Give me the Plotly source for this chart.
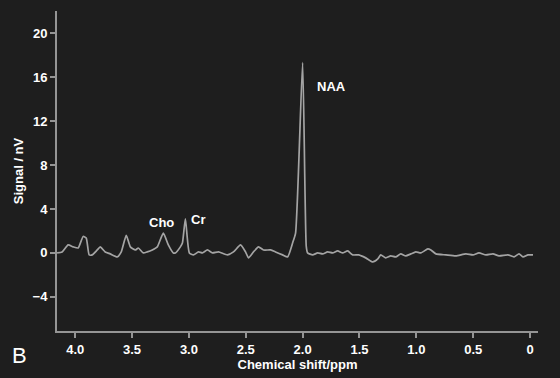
import plotly.graph_objects as go

ppm = [4.159, 4.115, 4.062, 4.018, 3.974, 3.930, 3.903, 3.877, 3.850, 3.806, 3.780, 3.736,
       3.692, 3.630, 3.595, 3.551, 3.515, 3.471, 3.445, 3.401, 3.366, 3.322, 3.278, 3.225,
       3.181, 3.137, 3.119, 3.075, 3.057, 3.031, 2.996, 2.960, 2.916, 2.881, 2.837, 2.793,
       2.740, 2.661, 2.608, 2.546, 2.502, 2.476, 2.432, 2.388, 2.344, 2.282, 2.238, 2.176,
       2.132, 2.088, 2.062, 2.000, 1.968, 1.956, 1.912, 1.868, 1.824, 1.780, 1.736, 1.692,
       1.648, 1.604, 1.559, 1.507, 1.445, 1.383, 1.339, 1.313, 1.269, 1.225, 1.181, 1.137,
       1.093, 1.048, 1.004, 0.960, 0.899, 0.872, 0.828, 0.740, 0.652, 0.564, 0.502, 0.449,
       0.388, 0.326, 0.273, 0.194, 0.141, 0.097, 0.062, 0.018, -0.026]
signal = [0.0, 0.09, 0.73, 0.55, 0.45, 1.5, 1.36, -0.18, -0.18, 0.27, 0.55, 0.09,
          -0.09, -0.36, 0.09, 1.6, 0.55, 0.27, 0.45, 0.0, 0.09, 0.27, 0.55, 1.8,
          0.73, 0.0, 0.0, 0.55, 0.9, 3.1, 0.0, -0.18, 0.09, 0.0, 0.27, 0.0,
          0.09, -0.18, 0.09, 0.73, 0.09, -0.45, 0.09, 0.55, 0.27, 0.27, 0.09, -0.18,
          -0.36, 0.91, 1.8, 17.3, 0.6, 0.0, -0.18, 0.0, -0.09, 0.09, 0.0, 0.18,
          0.0, 0.18, -0.18, -0.18, -0.45, -0.82, -0.55, -0.18, -0.45, -0.27, -0.36, -0.09,
          -0.27, -0.09, 0.09, 0.0, 0.36, 0.27, -0.09, -0.18, -0.27, -0.09, -0.18, 0.0,
          -0.18, -0.09, -0.27, -0.18, -0.36, -0.09, -0.36, -0.18, -0.18]

x_ticks = [4.0, 3.5, 3.0, 2.5, 2.0, 1.5, 1.0, 0.5, 0]
x_tick_labels = ["4.0", "3.5", "3.0", "2.5", "2.0", "1.5", "1.0", "0.5", "0"]
y_ticks = [-4, 0, 4, 8, 12, 16, 20]

peak_names = ["NAA", "Cho", "Cr"]
peak_x = [1.75, 3.24, 2.92]
peak_y = [15.1, 2.8, 3.0]

fig = go.Figure()
fig.add_trace(go.Scatter(x=ppm, y=signal, mode="lines",
                         line=dict(color="#a4a4a4", width=1.7, shape="spline", smoothing=0.5),
                         hoverinfo="skip"))

for name, px, py in zip(peak_names, peak_x, peak_y):
    fig.add_annotation(x=px, y=py, text=name, showarrow=False,
                       font=dict(family="Liberation Sans", size=13, color="white",
                                 weight="bold"))

fig.add_annotation(xref="paper", yref="paper", x=-0.077, y=-0.075, text="B",
                   showarrow=False, xanchor="center", yanchor="middle",
                   font=dict(family="Liberation Sans", size=22, color="white"))

tickfont = dict(family="Liberation Sans", size=13, color="white", weight="bold")
titlefont = dict(family="Liberation Sans", size=13, color="white", weight="bold")
axis_common = dict(showline=True, linecolor="#959595", linewidth=2, ticks="outside",
                   ticklen=5, tickwidth=1.5, tickcolor="#959595", showgrid=False,
                   zeroline=False, tickfont=tickfont)

fig.update_layout(
    width=560, height=378,
    margin=dict(l=57, r=22, t=11, b=47),
    paper_bgcolor="#1e1e1e", plot_bgcolor="#1e1e1e",
    showlegend=False,
    font=dict(family="Liberation Sans", color="white"),
    xaxis=dict(range=[4.16, -0.07], tickvals=x_ticks, ticktext=x_tick_labels,
               title=dict(text="Chemical shift/ppm", standoff=0, font=titlefont),
               **axis_common),
    yaxis=dict(range=[-7.1, 22.0], tickvals=y_ticks,
               title=dict(text="Signal / nV", standoff=6, font=titlefont),
               **axis_common),
)

fig.write_html("out.html", config={"displayModeBar": False},
               post_script="document.body.style.margin='0';")
